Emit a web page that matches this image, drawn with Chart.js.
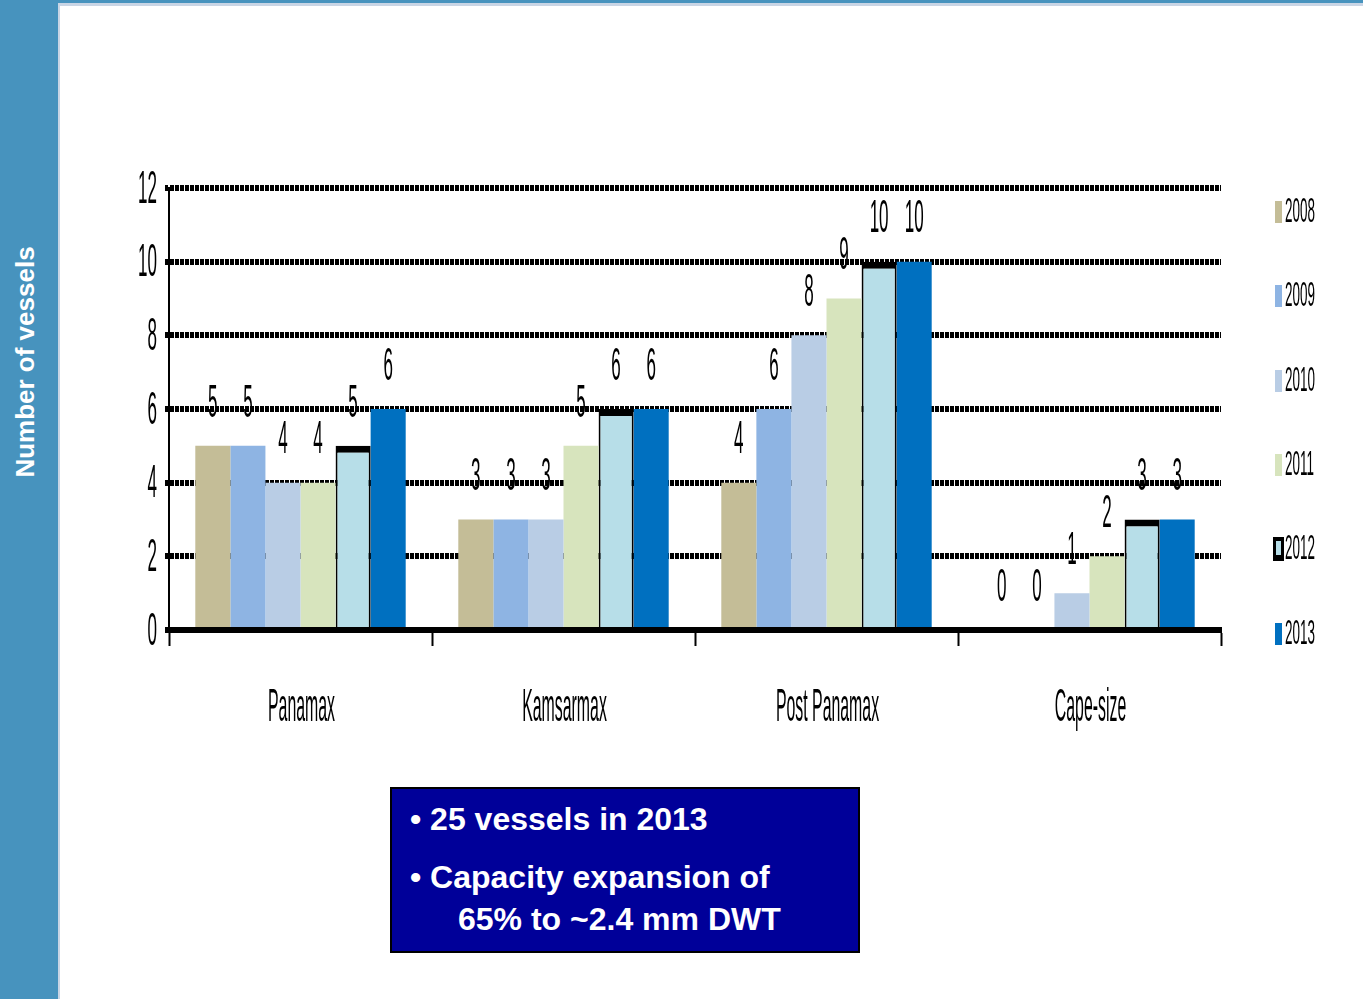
<!DOCTYPE html>
<html>
<head>
<meta charset="utf-8">
<script src="https://cdn.jsdelivr.net/npm/chart.js@4.4.1/dist/chart.umd.min.js"></script>
<style>
  html, body { margin: 0; padding: 0; background: #fff; width: 1363px; height: 999px; overflow: hidden; font-family: "Liberation Sans", Arial, sans-serif; }
  #side { position: absolute; left: 0; top: 0; width: 58px; height: 999px; background: #4793BE; }
  #topbar { position: absolute; left: 0; top: 0; width: 1363px; height: 3px; background: #4793BE; }
  #topline { position: absolute; left: 58px; top: 3px; width: 1305px; height: 3px; background: #C9D5E5; }
  #leftline { position: absolute; left: 58px; top: 3px; width: 2px; height: 996px; background: #C9D5E5; }
  #ytitle { position: absolute; left: 25px; top: 362px; transform: translate(-50%, -50%) rotate(-90deg); color: #fff; font-weight: bold; font-size: 26px; white-space: nowrap; }
  #chart { position: absolute; left: 0; top: 0; }
  #note { position: absolute; left: 390px; top: 787px; width: 466px; height: 162px; background: #000099; border: 2px solid #000; color: #fff; font-weight: bold; font-size: 32px; }
  #note div { position: absolute; line-height: 36px; white-space: nowrap; }
</style>
</head>
<body>
<div id="side"></div>
<div id="topbar"></div>
<div id="topline"></div>
<div id="leftline"></div>
<div id="ytitle">Number of vessels</div>
<canvas id="chart" width="1363" height="999"></canvas>
<div id="note">
  <div style="left:18px; top:12px;">• 25 vessels in 2013</div>
  <div style="left:18px; top:70px;">• Capacity expansion of</div>
  <div style="left:66px; top:112px;">65% to ~2.4 mm DWT</div>
</div>
<script>
// vessel counts per class and delivery year
const categories = ["Panamax", "Kamsarmax", "Post Panamax", "Cape-size"];
const years = ["2008", "2009", "2010", "2011", "2012", "2013"];
const v2008 = [5, 3, 4, 0];
const v2009 = [5, 3, 6, 0];
const v2010 = [4, 3, 8, 1];
const v2011 = [4, 5, 9, 2];
const v2012 = [5, 6, 10, 3];
const v2013 = [6, 6, 10, 3];
const yTicks = [0, 2, 4, 6, 8, 10, 12];

const colors = ["#C4BD97", "#8EB4E3", "#B9CDE5", "#D7E4BD", "#B7DEE8", "#0070C0"];
const series = [v2008, v2009, v2010, v2011, v2012, v2013];

const FONT = '"Liberation Sans", Arial, sans-serif';

// tall narrow text, like the original condensed font
function narrow(ctx, text, x, y, size, align, squeeze) {
  ctx.save();
  ctx.translate(x, y);
  ctx.scale(squeeze || 0.37, 1);
  ctx.font = size + "px " + FONT;
  ctx.textAlign = align;
  ctx.textBaseline = "middle";
  ctx.fillStyle = "#000";
  ctx.fillText(text, 0, 0);
  ctx.restore();
}

const labelsPlugin = {
  id: "narrowLabels",
  afterDatasetsDraw(chart) {
    const ctx = chart.ctx;
    chart.data.datasets.forEach((ds, i) => {
      chart.getDatasetMeta(i).data.forEach((bar, j) => {
        narrow(ctx, String(ds.data[j]), bar.x, bar.y - 42, 46, "center");
      });
    });
  },
  afterDraw(chart) {
    const ctx = chart.ctx;
    const area = chart.chartArea;
    const ys = chart.scales.y;
    const xs = chart.scales.x;
    ys.ticks.forEach(t => {
      narrow(ctx, String(t.value), area.left - 12, ys.getPixelForValue(t.value) + 2, 46, "right");
    });
    categories.forEach((c, i) => {
      narrow(ctx, c, xs.getPixelForTick(i) + 1, area.bottom + 78, 46, "center", 0.345);
    });
    // legend
    const rows = [212, 296, 381, 465, 549, 634];
    years.forEach((y, i) => {
      const cy = rows[i];
      if (i === 4) {
        ctx.fillStyle = "#000";
        ctx.fillRect(1273, cy - 12, 11, 24);
        ctx.fillStyle = colors[i];
        ctx.fillRect(1276, cy - 8, 5, 14);
      } else {
        ctx.fillStyle = colors[i];
        ctx.fillRect(1275, cy - 11, 7, 22);
      }
      narrow(ctx, y, 1285, cy, 35, "left", 0.385);
    });
  }
};

new Chart(document.getElementById("chart"), {
  type: "bar",
  data: {
    labels: categories,
    datasets: years.map((y, i) => ({
      label: y,
      data: series[i],
      backgroundColor: colors[i],
      borderColor: "#000",
      borderWidth: i === 4 ? { top: 7, left: 2, right: 2, bottom: 0 } : 0,
      categoryPercentage: 0.8,
      barPercentage: 1.0,
    })),
  },
  options: {
    responsive: false,
    animation: false,
    events: [],
    layout: { padding: { left: 165, top: 188, right: 142, bottom: 353 } },
    plugins: { legend: { display: false }, tooltip: { enabled: false } },
    scales: {
      x: {
        z: 1,
        ticks: { display: false },
        grid: { display: true, drawOnChartArea: false, drawTicks: true, tickLength: 16, tickWidth: 2, tickColor: "#000", offset: true },
        border: { display: true, width: 6, color: "#000" },
      },
      y: {
        min: 0,
        max: 12,
        afterBuildTicks: (scale) => { scale.ticks = yTicks.map(v => ({ value: v })); },
        ticks: { display: false },
        grid: {
          drawTicks: true,
          tickLength: 4,
          tickWidth: 6,
          tickColor: "#000",
          lineWidth: 6,
          color: (c) => (c.tick && c.tick.value === 0 ? "rgba(0,0,0,0)" : "#000"),
        },
        border: { display: true, width: 2, color: "#000", dash: [4, 1] },
      },
    },
  },
  plugins: [labelsPlugin],
});
</script>
</body>
</html>
